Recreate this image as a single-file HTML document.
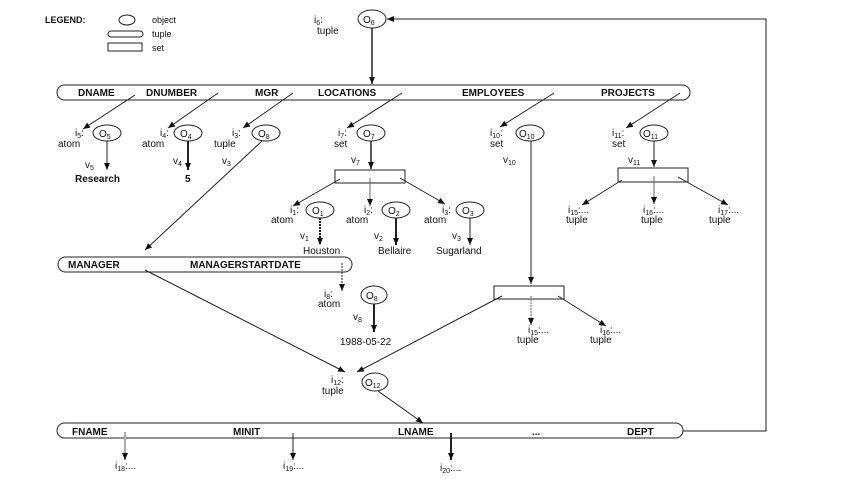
<!DOCTYPE html>
<html><head><meta charset="utf-8"><style>
html,body{margin:0;padding:0;background:#fff;}
svg{display:block;}
text{font-family:"Liberation Sans",sans-serif;font-size:10px;fill:#111;}
.b{font-weight:bold;}
.s{font-size:7px;}
</style></head><body>
<svg width="849" height="493" viewBox="0 0 849 493" xmlns="http://www.w3.org/2000/svg">
<defs>
<marker id="a" markerWidth="8" markerHeight="8" refX="7" refY="4" orient="auto" markerUnits="userSpaceOnUse">
<path d="M0,1 L7,4 L0,7 z" fill="#111"/></marker>
</defs>
<g stroke="#222" fill="none" stroke-width="1">
<ellipse cx="127" cy="20" rx="8" ry="5"/>
<rect x="108" y="31" width="35" height="6" rx="3"/>
<rect x="108" y="43" width="34" height="8"/>
<ellipse cx="372" cy="19" rx="14" ry="9"/>
<line x1="372" y1="28" x2="372" y2="84" stroke-width="1.5" marker-end="url(#a)"/>
<polyline points="683,431 766,431 766,19 387,19" marker-end="url(#a)"/>
<rect x="57" y="85" width="633" height="15" rx="7.5"/>
<line x1="135" y1="95" x2="83" y2="129" marker-end="url(#a)"/>
<line x1="218" y1="93" x2="168" y2="128" marker-end="url(#a)"/>
<line x1="293" y1="93" x2="243" y2="128" marker-end="url(#a)"/>
<line x1="402" y1="93" x2="347" y2="128" marker-end="url(#a)"/>
<line x1="554" y1="93" x2="500" y2="127" marker-end="url(#a)"/>
<line x1="680" y1="93" x2="626" y2="128" marker-end="url(#a)"/>
<ellipse cx="107" cy="133" rx="14" ry="8"/>
<ellipse cx="188" cy="133" rx="14" ry="8"/>
<ellipse cx="266" cy="133" rx="14" ry="8"/>
<ellipse cx="371" cy="133" rx="14" ry="8"/>
<ellipse cx="530" cy="133" rx="14" ry="8"/>
<ellipse cx="654" cy="133" rx="14" ry="8"/>
<line x1="107" y1="141" x2="107" y2="170" marker-end="url(#a)"/>
<line x1="188" y1="141" x2="188" y2="170" stroke-width="2" marker-end="url(#a)"/>
<line x1="262" y1="141" x2="145" y2="250" marker-end="url(#a)"/>
<line x1="371" y1="141" x2="371" y2="169" stroke-width="1.5" marker-end="url(#a)"/>
<line x1="531" y1="141" x2="531" y2="284" marker-end="url(#a)"/>
<line x1="654" y1="141" x2="654" y2="167" marker-end="url(#a)"/>
<rect x="335" y="170" width="70" height="13"/>
<line x1="340" y1="179" x2="293" y2="206" marker-end="url(#a)"/>
<line x1="370" y1="178" x2="370" y2="206" stroke="#666" marker-end="url(#a)"/>
<line x1="400" y1="178" x2="445" y2="204" marker-end="url(#a)"/>
<ellipse cx="320" cy="210" rx="14" ry="8"/>
<ellipse cx="396" cy="210" rx="14" ry="8"/>
<ellipse cx="470" cy="210" rx="14" ry="8"/>
<line x1="320" y1="218" x2="320" y2="245" stroke-width="2" stroke-dasharray="2,1" marker-end="url(#a)"/>
<line x1="396" y1="218" x2="396" y2="245" stroke-width="2" marker-end="url(#a)"/>
<line x1="470" y1="218" x2="470" y2="245" marker-end="url(#a)"/>
<rect x="618" y="168" width="70" height="14"/>
<line x1="622" y1="180" x2="582" y2="205" marker-end="url(#a)"/>
<line x1="654" y1="176" x2="654" y2="204" stroke="#666" marker-end="url(#a)"/>
<line x1="678" y1="177" x2="728" y2="205" marker-end="url(#a)"/>
<rect x="58" y="257" width="294" height="15" rx="7.5"/>
<line x1="145" y1="270" x2="345" y2="372" marker-end="url(#a)"/>
<line x1="342" y1="263" x2="342" y2="291" stroke-dasharray="2,1" marker-end="url(#a)"/>
<ellipse cx="374" cy="295" rx="13" ry="9"/>
<line x1="374" y1="304" x2="374" y2="332" stroke-width="2" marker-end="url(#a)"/>
<rect x="494" y="286" width="70" height="13"/>
<line x1="502" y1="296" x2="357" y2="372" marker-end="url(#a)"/>
<line x1="531" y1="296" x2="531" y2="325" stroke="#666" stroke-dasharray="2,1" marker-end="url(#a)"/>
<line x1="558" y1="296" x2="606" y2="326" marker-end="url(#a)"/>
<ellipse cx="375" cy="382" rx="13" ry="9"/>
<line x1="378" y1="391" x2="423" y2="423" marker-end="url(#a)"/>
<rect x="57" y="423" width="626" height="15" rx="7.5"/>
<line x1="125" y1="432" x2="125" y2="460" stroke="#aaa" stroke-width="2" marker-end="url(#a)"/>
<line x1="293" y1="433" x2="293" y2="460" marker-end="url(#a)"/>
<line x1="451" y1="433" x2="451" y2="460" stroke-width="2" marker-end="url(#a)"/>
</g>
<text x="45" y="23" class="b" style="font-size:9px">LEGEND:</text>
<text x="152" y="23" style="font-size:9px">object</text>
<text x="152" y="37" style="font-size:9px">tuple</text>
<text x="152" y="51" style="font-size:9px">set</text>
<text x="314" y="23">i<tspan class="s" dy="2">6</tspan><tspan dy="-2">:</tspan></text>
<text x="317" y="34">tuple</text>
<text x="363" y="23">O<tspan class="s" dy="2">6</tspan></text>
<g class="b" style="font-size:9.5px">
<text x="78" y="96">DNAME</text><text x="146" y="96">DNUMBER</text><text x="255" y="96">MGR</text>
<text x="318" y="96">LOCATIONS</text><text x="462" y="96">EMPLOYEES</text><text x="601" y="96">PROJECTS</text>
<text x="68" y="268">MANAGER</text><text x="190" y="268">MANAGERSTARTDATE</text>
<text x="72" y="435">FNAME</text><text x="233" y="435">MINIT</text><text x="398" y="435">LNAME</text>
<text x="532" y="435">...</text><text x="627" y="435">DEPT</text>
</g>
<text x="75" y="136">i<tspan class="s" dy="2">5</tspan><tspan dy="-2">:</tspan></text><text x="58" y="147">atom</text><text x="99" y="137">O<tspan class="s" dy="2">5</tspan></text>
<text x="160" y="136">i<tspan class="s" dy="2">4</tspan><tspan dy="-2">:</tspan></text><text x="142" y="147">atom</text><text x="180" y="137">O<tspan class="s" dy="2">4</tspan></text>
<text x="232" y="136">i<tspan class="s" dy="2">3</tspan><tspan dy="-2">:</tspan></text><text x="214" y="147">tuple</text><text x="258" y="137">O<tspan class="s" dy="2">8</tspan></text>
<text x="338" y="136">i<tspan class="s" dy="2">7</tspan><tspan dy="-2">:</tspan></text><text x="334" y="147">set</text><text x="363" y="137">O<tspan class="s" dy="2">7</tspan></text>
<text x="490" y="136">i<tspan class="s" dy="2">10</tspan><tspan dy="-2">:</tspan></text><text x="490" y="147">set</text><text x="519" y="137">O<tspan class="s" dy="2">10</tspan></text>
<text x="612" y="136">i<tspan class="s" dy="2">11</tspan><tspan dy="-2">:</tspan></text><text x="612" y="147">set</text><text x="643" y="137">O<tspan class="s" dy="2">11</tspan></text>
<text x="85" y="168">v<tspan class="s" dy="2">5</tspan></text><text x="75" y="182" class="b">Research</text>
<text x="173" y="164">v<tspan class="s" dy="2">4</tspan></text><text x="185" y="182" class="b">5</text>
<text x="222" y="164">v<tspan class="s" dy="2">3</tspan></text>
<text x="351" y="163">v<tspan class="s" dy="2">7</tspan></text>
<text x="503" y="163">v<tspan class="s" dy="2">10</tspan></text>
<text x="628" y="163">v<tspan class="s" dy="2">11</tspan></text>
<text x="290" y="213">i<tspan class="s" dy="2">1</tspan><tspan dy="-2">:</tspan></text><text x="271" y="223">atom</text><text x="312" y="214">O<tspan class="s" dy="2">1</tspan></text>
<text x="364" y="213">i<tspan class="s" dy="2">2</tspan><tspan dy="-2">:</tspan></text><text x="346" y="223">atom</text><text x="388" y="214">O<tspan class="s" dy="2">2</tspan></text>
<text x="442" y="213">i<tspan class="s" dy="2">3</tspan><tspan dy="-2">:</tspan></text><text x="424" y="223">atom</text><text x="462" y="214">O<tspan class="s" dy="2">3</tspan></text>
<text x="300" y="239">v<tspan class="s" dy="2">1</tspan></text><text x="303" y="254">Houston</text>
<text x="374" y="239">v<tspan class="s" dy="2">2</tspan></text><text x="378" y="254">Bellaire</text>
<text x="452" y="239">v<tspan class="s" dy="2">3</tspan></text><text x="436" y="254">Sugarland</text>
<text x="568" y="213">i<tspan class="s" dy="2">15</tspan><tspan dy="-2">:...</tspan></text><text x="566" y="223">tuple</text>
<text x="643" y="213">i<tspan class="s" dy="2">16</tspan><tspan dy="-2">:...</tspan></text><text x="641" y="223">tuple</text>
<text x="718" y="213">i<tspan class="s" dy="2">17</tspan><tspan dy="-2">:...</tspan></text><text x="709" y="223">tuple</text>
<text x="324" y="297">i<tspan class="s" dy="2">8</tspan><tspan dy="-2">:</tspan></text><text x="318" y="307">atom</text><text x="366" y="299">O<tspan class="s" dy="2">8</tspan></text>
<text x="353" y="320">v<tspan class="s" dy="2">8</tspan></text><text x="340" y="345">1988-05-22</text>
<text x="528" y="333">i<tspan class="s" dy="2">15</tspan><tspan dy="-2">:...</tspan></text><text x="517" y="343">tuple</text>
<text x="600" y="333">i<tspan class="s" dy="2">16</tspan><tspan dy="-2">:...</tspan></text><text x="590" y="343">tuple</text>
<text x="331" y="383">i<tspan class="s" dy="2">12</tspan><tspan dy="-2">:</tspan></text><text x="322" y="394">tuple</text><text x="365" y="386">O<tspan class="s" dy="2">12</tspan></text>
<text x="115" y="469">i<tspan class="s" dy="2">18</tspan><tspan dy="-2">:...</tspan></text>
<text x="283" y="469">i<tspan class="s" dy="2">19</tspan><tspan dy="-2">:...</tspan></text>
<text x="440" y="471">i<tspan class="s" dy="2">20</tspan><tspan dy="-2">:...</tspan></text>
</svg>
</body></html>
